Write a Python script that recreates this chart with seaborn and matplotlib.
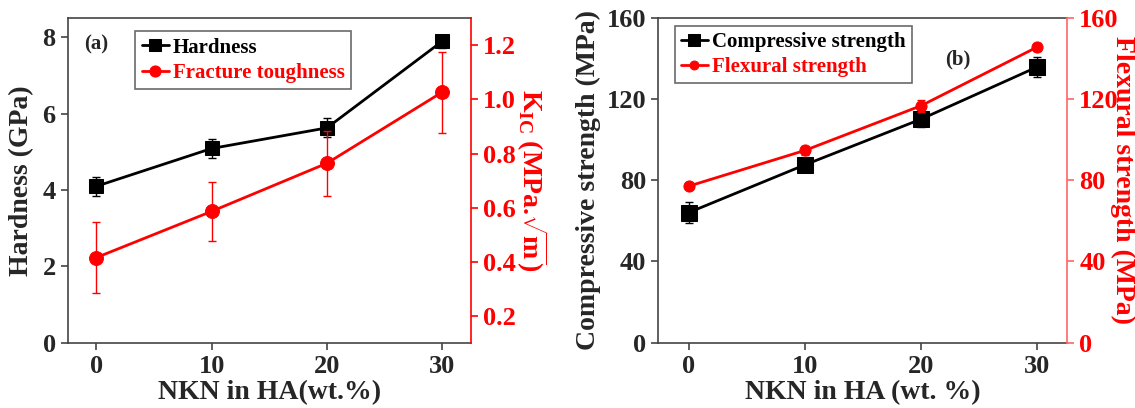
import numpy as np
import pandas as pd
import matplotlib
matplotlib.use('Agg')
import matplotlib.pyplot as plt
import seaborn as sns

# values
nkn = [0, 10, 20, 30]
hardness = [4.1, 5.09, 5.63, 7.9]
hardness_err = [0.25, 0.25, 0.25, 0.17]
toughness = [0.415, 0.586, 0.764, 1.027]
toughness_err = [0.13, 0.11, 0.12, 0.15]
compressive = [64.0, 87.5, 110.0, 135.7]
compressive_err = [5.0, 3.5, 4.0, 5.0]
flexural = [77.0, 94.6, 116.6, 145.5]
flexural_err = [1.5, 2.0, 3.0, 2.0]

sns.set_theme(style='ticks')
plt.rcParams['font.family'] = ['Liberation Serif', 'DejaVu Serif']
plt.rcParams['font.weight'] = 'bold'
plt.rcParams['axes.labelweight'] = 'bold'
plt.rcParams['mathtext.fontset'] = 'custom'
plt.rcParams['mathtext.rm'] = 'Liberation Serif:bold'
plt.rcParams['mathtext.it'] = 'Liberation Serif:bold'
plt.rcParams['mathtext.bf'] = 'Liberation Serif:bold'

RED = '#ff0000'
SPINE = '#444444'

df = pd.DataFrame({'nkn': nkn, 'hardness': hardness, 'toughness': toughness,
                   'compressive': compressive, 'flexural': flexural})

fig = plt.figure(figsize=(11.35, 4.08), dpi=100)
ax1 = fig.add_axes([0.0595, 0.160, 0.3555, 0.795])
ax3 = fig.add_axes([0.580, 0.160, 0.3605, 0.797])


def style_axes(ax, twin, twin_spine_color):
    for s in ['left', 'bottom', 'top']:
        ax.spines[s].set_color(SPINE)
        ax.spines[s].set_linewidth(1.2)
    ax.spines['right'].set_visible(False)
    for s in ['left', 'bottom', 'top']:
        twin.spines[s].set_visible(False)
    twin.spines['right'].set_color(twin_spine_color)
    twin.spines['right'].set_linewidth(1.2)
    ax.tick_params(axis='both', direction='out', length=5, width=1.2,
                   color=SPINE, labelsize=19, top=False, right=False)
    twin.tick_params(axis='y', direction='out', length=5, width=1.2,
                     colors=RED, labelsize=19)
    twin.tick_params(axis='y', color=twin_spine_color)
    for lab in ax.get_xticklabels() + ax.get_yticklabels() + twin.get_yticklabels():
        lab.set_fontweight('bold')


# ---- panel (a)
ax2 = ax1.twinx()
sns.lineplot(data=df, x='nkn', y='hardness', ax=ax1, color='black', marker='s',
             markersize=10, linewidth=2, markeredgecolor='black', label='Hardness', legend=False)
ax1.errorbar(nkn, hardness, yerr=hardness_err, fmt='none', ecolor='black', elinewidth=1, capsize=3)
sns.lineplot(data=df, x='nkn', y='toughness', ax=ax2, color=RED, marker='o',
             markersize=10, linewidth=2, markeredgecolor=RED, label='Fracture toughness', legend=False)
ax2.errorbar(nkn, toughness, yerr=toughness_err, fmt='none', ecolor=RED, elinewidth=1, capsize=3)

ax1.set_xlim(-2.5, 32.5)
ax1.set_ylim(0, 8.5)
ax2.set_ylim(0.1, 1.3)
ax1.set_xticks([0, 10, 20, 30])
ax1.set_yticks([0, 2, 4, 6, 8])
ax2.set_yticks([0.2, 0.4, 0.6, 0.8, 1.0, 1.2])
ax2.set_yticklabels(['0.2', '0.4', '0.6', '0.8', '1.0', '1.2'])
ax1.set_xlabel('NKN in HA(wt.%)', fontsize=20, fontweight='bold', labelpad=2)
ax1.set_ylabel('Hardness (GPa)', fontsize=20, fontweight='bold', labelpad=6)
ax2.set_ylabel(r'K$_{\rm IC}$ (MPa.$\sqrt{\rm m}$)', fontsize=20, fontweight='bold',
               color=RED, rotation=270, labelpad=24)
style_axes(ax1, ax2, RED)
ax1.text(0.04, 0.92, '(a)', transform=ax1.transAxes, fontsize=15, fontweight='bold', va='center')

h1, l1 = ax1.get_legend_handles_labels()
h2, l2 = ax2.get_legend_handles_labels()
leg = ax1.legend(h1 + h2, l1 + l2, loc='upper left', bbox_to_anchor=(0.168, 0.96),
                 prop={'family': 'Liberation Serif', 'weight': 'bold', 'size': 15},
                 frameon=True, fancybox=False, edgecolor=SPINE, handlelength=1.3,
                 handletextpad=0.2, borderpad=0.3, labelspacing=0.25, borderaxespad=0,
                 markerscale=0.8)
leg.get_frame().set_linewidth(1.2)
for t, c in zip(leg.get_texts(), ['black', RED]):
    t.set_color(c)

# ---- panel (b)
ax4 = ax3.twinx()
sns.lineplot(data=df, x='nkn', y='compressive', ax=ax3, color='black', marker='s',
             markersize=11, linewidth=2, markeredgecolor='black', label='Compressive strength', legend=False)
ax3.errorbar(nkn, compressive, yerr=compressive_err, fmt='none', ecolor='black', elinewidth=1, capsize=3)
sns.lineplot(data=df, x='nkn', y='flexural', ax=ax4, color=RED, marker='o',
             markersize=8, linewidth=2, markeredgecolor=RED, label='Flexural strength', legend=False)
ax4.errorbar(nkn, flexural, yerr=flexural_err, fmt='none', ecolor=RED, elinewidth=1, capsize=3)

ax3.set_xlim(-2.6, 32.6)
ax3.set_ylim(0, 160)
ax4.set_ylim(0, 160)
ax3.set_xticks([0, 10, 20, 30])
ax3.set_yticks([0, 40, 80, 120, 160])
ax4.set_yticks([0, 40, 80, 120, 160])
ax3.set_xlabel('NKN in HA (wt. %)', fontsize=20, fontweight='bold', labelpad=2)
ax3.set_ylabel('Compressive strength (MPa)', fontsize=20, fontweight='bold', labelpad=4)
ax4.set_ylabel('Flexural strength (MPa)', fontsize=20, fontweight='bold', color=RED,
               rotation=270, labelpad=12)
style_axes(ax3, ax4, '#ff6666')
ax3.text(0.70, 0.87, '(b)', transform=ax3.transAxes, fontsize=15, fontweight='bold', va='center')

h3, l3 = ax3.get_legend_handles_labels()
h4, l4 = ax4.get_legend_handles_labels()
leg2 = ax3.legend(h3 + h4, l3 + l4, loc='upper left', bbox_to_anchor=(0.04, 0.975),
                  prop={'family': 'Liberation Serif', 'weight': 'bold', 'size': 15},
                  frameon=True, fancybox=False, edgecolor=SPINE, handlelength=1.3,
                  handletextpad=0.2, borderpad=0.3, labelspacing=0.25, borderaxespad=0,
                  markerscale=0.8)
leg2.get_frame().set_linewidth(1.2)
for t, c in zip(leg2.get_texts(), ['black', RED]):
    t.set_color(c)

fig.savefig('out.png', dpi=100)
